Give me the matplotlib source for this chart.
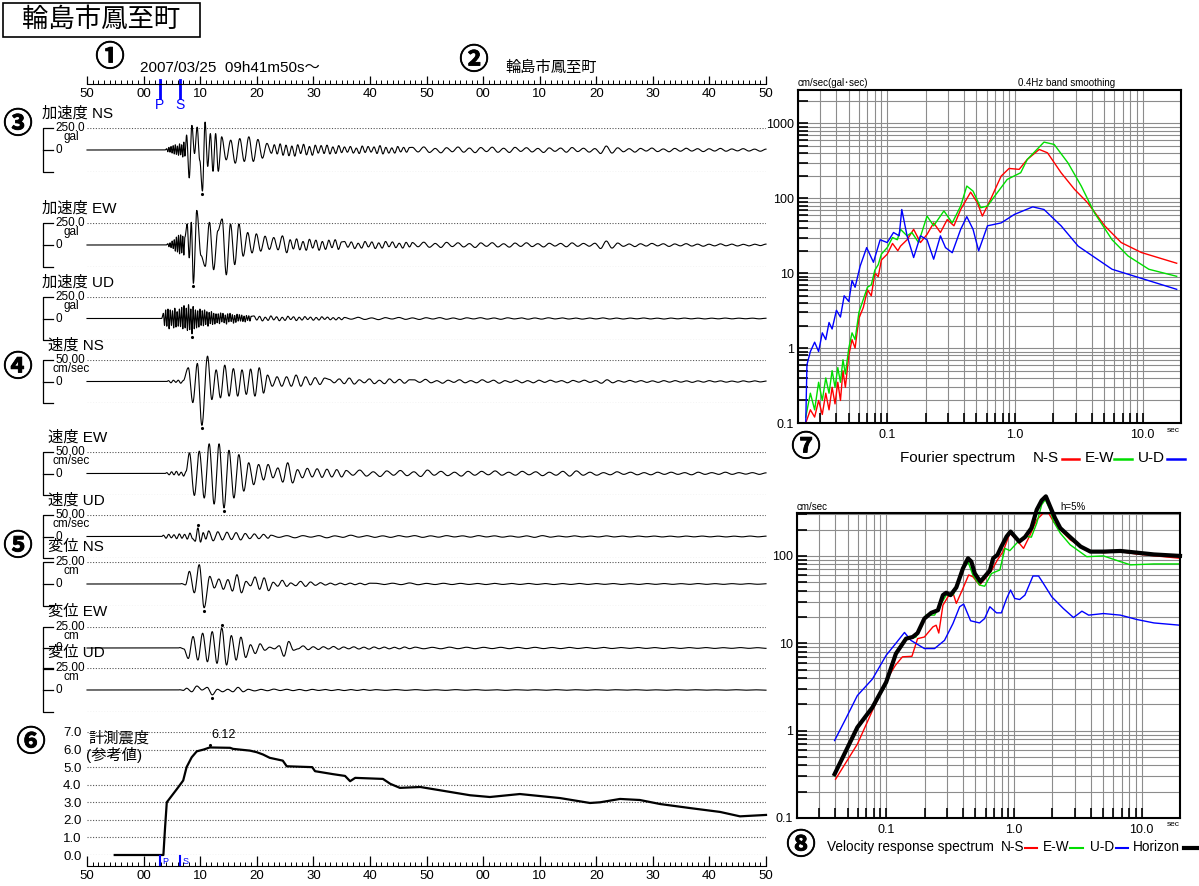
import numpy as np
import matplotlib.pyplot as plt
import matplotlib.patheffects as pe
from matplotlib.patches import Rectangle
from matplotlib.ticker import FixedLocator, FixedFormatter, NullFormatter, LogLocator

plt.rcParams['font.family'] = ['Liberation Sans', 'Noto Sans CJK JP', 'DejaVu Sans']

# ---- waveform data: (start s, end s, extrema) ----
acc_ns = [
    (14.1, 17.3, [15, -20, 30, -25, 40, -35, 50, -45, 60, -50, 45, -60, 70, -55, 60, -80, 90, -70]),
    (17.6, 23.2, [170, -317, 280, -40, 260, -120, -466, 317, -186, 186, -242, 186, -242]),
    (23.8, 32.6, [150, -112, 112, -150, 130, -130, 150, -130, 120, -93, 75, -37]),
    (33.1, 45.0, [60, -45, 70, -60, 55, -65, 45, -70, 60, -40, 65, -55, 40, -60, 55, -35, 50, -40,
                  55, -45, 35, -40, 50, -30]),
    (45.5, 57.0, [35, -25, 40, -35, 22, -40, 45, -28, 40, -24, 35, -40, 50, -45, 30, -35, 24, -35,
                  40, -22, 30, -25, 28]),
    (57.5, 120.0, [30, -22, 35, -28, 18, -32, 26, -20, 34, -25, 22, -30, 28, -18, 32, -26, 20, -28,
                   30, -16, 26, -22, 18, -28, 24, -15, 22, -25, 28, -18, 20, -24, 16, -40, 45, -35,
                   25, -20, 15, -24, 18, -12, 22, -18, 12, -20, 18, -14, 20, -12, 15, -18, 14, -12,
                   18, -14, 12, -10, 15, -12, 10, -14, 10]),
]
acc_ew = [
    (14.3, 17.3, [15, -20, 25, -30, 45, -40, 60, -70, 90, -80, 110, -100, 115, -90, 100, -115, 90]),
    (17.7, 18.8, [240, -146, 258, -435]),
    (19.4, 27.6, [393, -120, -243, 258, -281, 162, 296, -339, 239, -223, 239, -127]),
    (28.4, 35.3, [142, -90, 127, -70, 100, -50, 85, -55, 104, -88]),
    (35.9, 45.0, [60, -45, 70, -55, 40, -60, 65, -35, 55, -60, 40, -50, 55, -30, 60, -50, 35]),
    (45.5, 57.0, [40, -25, 35, -40, 20, -35, 40, -22, 35, -40, 24, -35, 40, -20, 35, -30, 20, -35,
                  30, -22]),
    (57.5, 120.0, [28, -20, 32, -26, 18, -28, 30, -18, 25, -22, 16, -28, 24, -15, 26, -22, 14, -24,
                   22, -16, 25, -18, 15, -22, 20, -12, 18, -20, 24, -15, 18, -14, 20, -40, 45, -35,
                   22, -15, 12, -18, 14, -12, 18, -10, 14, -16, 12, -10, 15, -12, 10, -14, 9, -10,
                   13, -9, 10, -11, 8, -10, 9, -7, 10]),
]
acc_ud = [
    (13.5, 23.0, [60, -80, 100, -90, 110, -120, 100, -80, 90, -110, 120, -100, 80, -90, 110, -95,
                  130, -120, 150, -110, 120, -140, 160, -130, 110, -179, 140, -120, 100, -110, 90,
                  -100, 110, -80, 90, -85, 100, -70, 80, -90, 70, -60, 80, -70, 60, -65, 55, -50]),
    (23.2, 29.0, [55, -60, 65, -40, 60, -50, 40, -65, 55, -40, 60, -35, 45, -55, 35, -45, 50, -30,
                  45, -30, 40, -35, 28, -40, 35, -22, 32, -30, 25]),
    (29.5, 45.0, [30, -18, 25, -28, 15, -22, 30, -16, 20, -26, 14, -22, 26, -12, 20, -24, 15, -18,
                  22, -12, 16, -20, 12, -18, 20, -10, 16, -15, 10, -16, 12, -14]),
    (45.5, 120.0, [12, -8, 14, -11, 7, -13, 10, -6, 12, -10, 7, -11, 9, -6, 10, -9, 6, -10, 8, -5,
                   9, -7, 6, -9, 8, -5, 7, -8, 6, -7, 8, -5, 7, -6, 5, -7, 6, -5, 7, -6, 5, -6, 5,
                   -4, 6, -5, 4, -6, 5, -4, 5, -4, 4, -5, 4, -4, 5, -4, 4, -3, 4, -4, 3]),
]
vel_ns = [
    (14.4, 17.0, [2, -3, 3, -2, 3, -4, 2]),
    (17.9, 20.3, [32, -49, 42, -102]),
    (21.3, 31.2, [59, -42, 27, -38, 38, -34, 30, -34, 27, -30, 29, -34, 32, -27]),
    (31.9, 42.0, [15, -11, 11, -11, 11, -11, 15, -11, 11, -8, 9, -7, 8]),
    (42.8, 57.0, [5, -3, 6, -5, 8, -6, 4, -3, 6, -5, 3, -5, 6, -3, 5, -4, 4]),
    (57.8, 120.0, [4, -2, 5, -3, 2, -4, 3, -2, 4, -3, 2, -3, 4, -2, 3, -4, 2, -2, 3, -3, 2, -3, 3,
                   -2, 3, -1.5, 2, -3, 2.5, -1.5, 3, -2, 2, -4, 4, -3, 2, -1.5, 2.5, -1.5, 2, -2,
                   1.5, -2, 2, -1.5, 2, -1.5, 1.5, -2, 1.5, -1.5, 2, -1, 1.5, -1.5, 1, -1.5, 1.5,
                   -1, 1.5, -1, 1]),
]
vel_ew = [
    (14.1, 17.5, [2, -3, 4, -3, 5, -4, 3, -6, 5]),
    (18.1, 31.2, [48, -51, 52, -57, 69, -71, 69, -80, 54, -57, 44, -41, 25, -26, 21, -15]),
    (32.0, 45.0, [21, -10, 13, -20, 25, -22, 9, -10, 12, -8, 11, -9, 10, -8, 9, -8]),
    (45.8, 120.0, [7, -4, 8, -6, 4, -7, 6, -4, 7, -5, 4, -7, 8, -4, 5, -5, 3, -6, 5, -4, 5, -3, 6,
                   -4, 3, -4, 5, -3, 4, -5, 3, -4, 5, -6, 6, -4, 3, -4, 2, -3, 4, -2, 3, -3, 2, -3,
                   3, -2, 3, -2, 2, -3, 3, -2, 2, -2, 3, -2, 2, -1.5, 2, -2, 1.5]),
]
vel_ud = [
    (13.5, 21.0, [3, -4, 5, -3, 4, -5, 6, -4, 5, -6, 8, -5, -11, 20, -13, 9, -6]),
    (21.5, 32.0, [13, -10, 11, -8, 10, -7, 9, -8, 7, -5, 6, -5, 5, -4]),
    (32.5, 120.0, [3, -2, 2, -3, 2, -1.5, 2, -3, 1.5, -2, 3, -1.5, 2, -2, 1.5, -2, 2, -1, 2, -2,
                   1.5, -1.5, 2, -1, 1.5, -1.5, 2, -1, 1.5, -1.5, 1, -1.5, 1.5, -2, 2, -1.5, 1,
                   -1, 1.5, -1, 1, -1, 1.5, -1, 1, -1, 1, -0.8, 1, -1, 0.8, -1, 1, -0.8, 1, -0.8,
                   0.8, -1, 0.8, -0.8, 1, -0.8, 0.8]),
]
dis_ns = [
    (16.7, 17.4, [0.5, -1]),
    (18.1, 20.7, [14.4, -10, 22, -27]),
    (21.7, 35.3, [8.7, -4.5, 5.7, -6, 5, -8, 10.6, -10, 3, -2, 8, -6, 7, -7.6, 2, -2.5, 4.2, -2.7]),
    (36.0, 50.0, [1.2, -1.9, 3, -2.7, 2.3, -1.5, 1.5, -1.2, 1, -1, 1, -0.8, 1, -0.8, 0.9, -0.8, 0.9]),
    (51.0, 120.0, [0.8, -0.6, 0.9, -0.7, 1.2, -0.8, 0.7, -0.6, 0.8, -0.6, 0.7, -0.5, 0.6, -0.6,
                   0.7, -0.5, 0.6, -0.5, 0.6, -0.5, 0.5, -0.6, 0.5, -0.5, 0.6, -0.5, 0.5, -0.4,
                   0.5, -0.5, 0.4, -0.5, 0.5, -0.4, 0.5, -0.4, 0.4, -0.4, 0.5, -0.4, 0.4, -0.4,
                   0.4, -0.3, 0.4, -0.3, 0.3]),
]
dis_ew = [
    (16.4, 17.1, [0.5, -1.0]),
    (17.9, 36.5, [-12.5, 13.7, -14.4, 17.6, -16.4, 19.5, -18.3, 23.8, -20.3, 14.8, -14.4, 12.9,
                  -11.3, 3.9, -6.6, 5, -2.7, 1, -1, 2.7, -9.8, 7.8, -2.7]),
    (37.3, 57.0, [-1, 2.5, -2, 1.5, -1.8, 1.5, -1.2, 1.8, -1.5, 1.2, -1, 1.4, -1.2, 1, -1.3, 1.2,
                  -0.9, 1.1, -1, 0.9, -1, 1.2, -0.8]),
    (58.0, 120.0, [1, -0.9, 0.8, -0.9, 1, -0.8, 0.9, -0.8, 0.8, -0.7, 0.8, -0.8, 0.7, -0.7, 0.8,
                   -0.7, 0.6, -0.7, 0.7, -0.6, 0.6, -0.6, 0.7, -0.6, 0.6, -0.5, 0.6, -0.5, 0.5,
                   -0.6, 0.5, -0.5, 0.5, -0.4, 0.5, -0.5, 0.4, -0.4, 0.5, -0.4, 0.4, -0.4]),
]
dis_ud = [
    (16.4, 17.0, [0.3, -0.5]),
    (17.6, 27.6, [2, -2, 4.5, 0, 3, -5.5, 0.8, -2, 0.8, -2, 3, -2]),
    (28.5, 50.0, [0.8, -1, 0.7, -0.8, 1, -0.6, 0.8, -0.7, 0.6, -0.8, 0.7, -0.5, 0.6, -0.6, 0.5,
                  -0.6, 0.5, -0.5, 0.6, -0.4]),
    (51.0, 120.0, [0.4, -0.4, 0.5, -0.4, 0.4, -0.4, 0.3, -0.4, 0.4, -0.3, 0.4, -0.3, 0.3, -0.4,
                   0.3, -0.3, 0.3, -0.3, 0.4, -0.3, 0.3, -0.3, 0.3, -0.3, 0.3, -0.2, 0.3, -0.3,
                   0.2, -0.3, 0.3, -0.2, 0.3, -0.2, 0.2, -0.2, 0.3, -0.2, 0.2, -0.2]),
]

# 計測震度 (running value)
int_t = [4.9, 13.5, 13.8, 14.1, 15.0, 15.9, 17.0, 17.6, 18.5, 19.4, 20.6, 21.7, 25.3, 25.8, 28.8,
         30.0, 31.1, 32.3, 34.6, 35.3, 39.8, 40.3, 43.5, 45.6, 46.5, 47.4, 52.3, 53.6, 55.3, 58.9,
         67.7, 71.2, 76.5, 83.6, 88.9, 90.7, 94.2, 97.7, 101.3, 106.6, 111.9, 115.4, 120.0]
int_v = [0, 0, 1.58, 3.0, 3.38, 3.76, 4.24, 5.0, 5.56, 5.9, 6.0, 6.12, 6.1, 6.04, 5.94, 5.85, 5.72,
         5.53, 5.37, 5.05, 5.0, 4.77, 4.6, 4.5, 4.2, 4.39, 4.33, 4.05, 3.82, 3.87, 3.4, 3.3, 3.47,
         3.24, 2.96, 3.0, 3.19, 3.13, 2.9, 2.67, 2.45, 2.2, 2.28]
int_max = 6.12
t_P, t_S = 12.9, 16.4
time_labels = ['50', '00', '10', '20', '30', '40', '50', '00', '10', '20', '30', '40', '50']

# Fourier spectrum (period s, amplitude)
fs_ns_T = [0.023, 0.025, 0.027, 0.029, 0.031, 0.033, 0.035, 0.037, 0.039, 0.041, 0.043, 0.045,
           0.047, 0.05, 0.053, 0.056, 0.06, 0.065, 0.07, 0.075, 0.08, 0.085, 0.09, 0.1, 0.11, 0.121,
           0.127, 0.143, 0.161, 0.182, 0.205, 0.231, 0.261, 0.295, 0.333, 0.376, 0.45, 0.508, 0.556,
           0.645, 0.78, 0.90, 1.08, 1.25, 1.55, 1.80, 2.30, 2.93, 3.71, 5.05, 6.8, 9.8, 18.5]
fs_ns_A = [0.1, 0.15, 0.12, 0.2, 0.13, 0.25, 0.15, 0.3, 0.18, 0.35, 0.2, 0.5, 0.3, 0.8, 1.3, 1.0,
           2.5, 3.5, 6, 5, 10, 9, 15, 18, 25, 20, 23, 28, 38.6, 25.7, 33, 47, 35, 52, 43, 71, 121,
           87.5, 58, 97, 198, 251, 244, 331, 450, 406, 220, 132, 87.5, 43, 25.7, 18.9, 13.6]
fs_ew_T = [0.023, 0.025, 0.027, 0.029, 0.031, 0.033, 0.035, 0.037, 0.039, 0.041, 0.043, 0.045,
           0.047, 0.05, 0.053, 0.056, 0.06, 0.065, 0.07, 0.075, 0.08, 0.085, 0.09, 0.1, 0.11, 0.12,
           0.127, 0.143, 0.156, 0.176, 0.205, 0.231, 0.278, 0.323, 0.376, 0.42, 0.47, 0.54, 0.61,
           0.68, 0.87, 1.11, 1.25, 1.69, 2.03, 2.60, 3.31, 4.2, 5.77, 7.7, 11.2, 18.5]
fs_ew_A = [0.12, 0.25, 0.15, 0.35, 0.2, 0.4, 0.25, 0.5, 0.3, 0.55, 0.35, 0.7, 0.45, 1.0, 1.6, 1.3,
           3, 4.5, 6.5, 7, 11, 13, 18, 22, 30, 28, 38.6, 31.6, 35, 25.7, 58, 43, 68, 47, 79, 146,
           125, 75, 79, 102, 179, 220, 331, 564, 525, 299, 146, 64, 28, 17, 11.3, 9.1]
fs_ud_T = [0.023, 0.0235, 0.025, 0.027, 0.029, 0.031, 0.033, 0.035, 0.037, 0.04, 0.043, 0.046,
           0.05, 0.053, 0.056, 0.0614, 0.069, 0.078, 0.088, 0.1, 0.112, 0.124, 0.130, 0.143, 0.161,
           0.182, 0.205, 0.231, 0.261, 0.286, 0.323, 0.376, 0.42, 0.47, 0.52, 0.61, 0.78, 0.99,
           1.38, 1.69, 2.30, 3.13, 5.77, 18.5]
fs_ud_A = [0.1, 0.6, 0.9, 1.2, 0.9, 1.6, 1.3, 2.2, 1.8, 3.2, 2.6, 5, 4.2, 8, 6.5, 12.5, 22, 14, 28,
           25.7, 35, 31.6, 71, 31.6, 16.2, 31.6, 28, 15.4, 31.6, 22, 18.8, 38.6, 57, 38.6, 19.9, 43,
           47, 61, 77, 71, 43, 23, 11.3, 6.1]

# velocity response spectrum h=5% (period s, cm/sec)
rs_ns_T = [0.0401, 0.0594, 0.078, 0.1, 0.118, 0.134, 0.159, 0.176, 0.199, 0.232, 0.246, 0.258,
           0.278, 0.304, 0.333, 0.354, 0.394, 0.442, 0.477, 0.538, 0.590, 0.668, 0.743, 0.822,
           0.930, 1.047, 1.19, 1.34, 1.51, 1.70, 1.87, 2.04, 2.31, 2.76, 3.72, 5.03, 6.83, 9.2, 20]
rs_ns_V = [0.278, 0.70, 1.70, 3.76, 5.6, 7.0, 7.1, 11.3, 11.8, 15.4, 16.1, 13.1, 27.3, 34, 37.9,
           28.6, 40.7, 60.5, 57.9, 46.4, 54, 67.9, 90, 112, 182, 153, 122, 174, 259, 309, 309, 248,
           199, 153, 117, 109, 112, 105, 94]
rs_ew_T = [0.0394, 0.0594, 0.078, 0.1, 0.119, 0.143, 0.171, 0.188, 0.205, 0.239, 0.270, 0.295,
           0.333, 0.364, 0.399, 0.437, 0.477, 0.538, 0.590, 0.668, 0.776, 0.851, 0.930, 1.08, 1.25,
           1.37, 1.51, 1.65, 1.76, 1.92, 2.04, 2.31, 2.76, 3.72, 5.03, 6.83, 8.2, 12.5, 20]
rs_ew_V = [0.304, 1.05, 1.85, 3.4, 7.6, 11.0, 11.8, 15.4, 21, 21, 28.6, 35.6, 35.6, 46.4, 69, 86,
           60.5, 46.4, 45, 63, 69, 122, 115, 146, 167, 164, 237, 385, 440, 338, 248, 182, 134, 98,
           100, 86, 79, 81, 81]
rs_ud_T = [0.0394, 0.0481, 0.0594, 0.078, 0.1, 0.119, 0.139, 0.156, 0.199, 0.239, 0.286, 0.333,
           0.376, 0.404, 0.458, 0.538, 0.590, 0.648, 0.731, 0.798, 0.877, 0.941, 1.015, 1.11, 1.22,
           1.41, 1.56, 1.70, 1.98, 2.44, 2.93, 3.41, 3.85, 5.03, 6.83, 9.2, 12.5, 20]
rs_ud_V = [0.77, 1.36, 2.52, 3.9, 7.3, 10, 13.3, 10.8, 8.7, 8.7, 10.8, 16.8, 26.2, 28.1, 18.1, 17.1,
           19.2, 26.2, 22.3, 22.3, 32.6, 40.7, 32.6, 31.7, 35.6, 58.9, 58.9, 48.5, 34, 25, 19.7,
           23.3, 21, 21.9, 21, 18.7, 17.1, 16.1]
rs_h_T = [0.0394, 0.0594, 0.078, 0.1, 0.119, 0.143, 0.161, 0.176, 0.199, 0.225, 0.254, 0.278,
          0.295, 0.319, 0.354, 0.399, 0.437, 0.464, 0.494, 0.546, 0.590, 0.648, 0.688, 0.743, 0.798,
          0.877, 0.941, 1.015, 1.10, 1.22, 1.37, 1.51, 1.65, 1.78, 1.92, 2.10, 2.31, 2.76, 3.33,
          3.98, 5.03, 6.83, 9.2, 12.5, 20]
rs_h_V = [0.318, 1.09, 1.85, 3.6, 7.6, 11.3, 11.8, 13.1, 19.2, 22.3, 23.9, 35.6, 37.9, 35.6, 43.6,
          72, 94, 86, 63, 50.7, 57.9, 67.9, 94, 102.7, 128, 167, 190, 167, 146, 164, 208, 338, 432,
          481, 369, 271, 208, 164, 128, 112, 112, 114, 109, 104, 100]

W, H = 1199, 886
fig = plt.figure(figsize=(W / 100, H / 100), dpi=100)


def box(l, t, r, b):
    return fig.add_axes([l / W, 1 - b / H, (r - l) / W, (b - t) / H])


def waveform(segs):
    ts = [0.0, segs[0][0] - 0.3]
    vs = [0.0, 0.0]
    for t0, t1, vals in segs:
        ts.extend(np.linspace(t0, t1, len(vals)))
        vs.extend(vals)
    if ts[-1] < 120:
        ts.append(120.0)
        vs.append(0.0)
    ts = np.array(ts)
    vs = np.array(vs, dtype=float)
    t = np.linspace(0, 120, 9000)
    k = np.clip(np.searchsorted(ts, t, side='right') - 1, 0, len(ts) - 2)
    s = (t - ts[k]) / (ts[k + 1] - ts[k])
    y = vs[k] + (vs[k + 1] - vs[k]) * (1 - np.cos(np.pi * s)) / 2
    return t, y


# overlay for labels, in pixels
ov = box(0, 0, W, H)
ov.set_xlim(0, W)
ov.set_ylim(H, 0)
ov.axis('off')

X0, X1 = 87, 766  # time axis pixel span (0..120 s)

# title box
ov.add_patch(Rectangle((3, 3), 197, 34, fill=False, lw=1.2, color='black'))
ov.text(101, 20, '輪島市鳳至町', fontsize=19, ha='center', va='center')
ov.text(140, 68, '2007/03/25  09h41m50s〜', fontsize=11, va='center')
ov.text(505, 68, '輪島市鳳至町', fontsize=11, va='center')

circ = [('①', 110, 57), ('②', 474, 60), ('③', 18, 124), ('④', 18, 367), ('⑤', 18, 546),
        ('⑥', 31, 742), ('⑦', 806, 447), ('⑧', 801, 845)]
for s, x, y in circ:
    ov.text(x, y, s, fontsize=21, fontweight='bold', ha='center', va='center',
            family=['Noto Sans CJK JP', 'DejaVu Sans'],
            path_effects=[pe.withStroke(linewidth=0.6, foreground='black')])

# top time ruler
ta = box(X0, 73, X1, 84)
ta.set_xlim(0, 120)
ta.set_ylim(0, 1)
ta.patch.set_visible(False)
for sp in ['top', 'left', 'right']:
    ta.spines[sp].set_visible(False)
ta.set_yticks([])
ta.set_xticks(np.arange(0, 121, 10))
ta.set_xticklabels(time_labels)
ta.set_xticks(np.arange(0, 121, 1), minor=True)
ta.tick_params(axis='x', which='major', direction='in', length=6, width=0.9, pad=3, labelsize=9.5)
ta.tick_params(axis='x', which='minor', direction='in', length=3, width=0.7)
for tt, lab in [(t_P, 'P'), (t_S, 'S')]:
    ta.plot([tt, tt], [0.4, -1.3], color='#0000ff', lw=2, transform=ta.get_xaxis_transform(),
            clip_on=False)
    ta.text(tt, -1.9, lab, color='#0000ff', fontsize=10, ha='center', va='center',
            transform=ta.get_xaxis_transform())

# traces
traces = [
    ('加速度 NS', 42, 128, 172, 250, '250.0', 'gal', acc_ns),
    ('加速度 EW', 42, 223, 267, 250, '250.0', 'gal', acc_ew),
    ('加速度 UD', 42, 297, 340, 250, '250.0', 'gal', acc_ud),
    ('速度 NS', 48, 360, 403, 50, '50.00', 'cm/sec', vel_ns),
    ('速度 EW', 48, 452, 495, 50, '50.00', 'cm/sec', vel_ew),
    ('速度 UD', 48, 515, 558, 50, '50.00', 'cm/sec', vel_ud),
    ('変位 NS', 48, 562, 606, 25, '25.00', 'cm', dis_ns),
    ('変位 EW', 48, 627, 669, 25, '25.00', 'cm', dis_ew),
    ('変位 UD', 48, 668, 712, 25, '25.00', 'cm', dis_ud),
]
for name, lx, top, bot, amp, stxt, unit, segs in traces:
    ax = box(X0, top, X1, bot)
    ax.set_xlim(0, 120)
    ax.set_ylim(-amp, amp)
    ax.axis('off')
    for yv in (amp, -amp):
        ax.axhline(yv, color='#555555', lw=0.8, ls=(0, (1, 1.5)))
    t, y = waveform(segs)
    ax.plot(t, y, color='black', lw=0.8, clip_on=False)
    i = np.argmax(np.abs(y))
    ax.plot(t[i], y[i] + np.sign(y[i]) * 0.14 * amp, 'k.', ms=2.5, clip_on=False)
    mid = (top + bot) / 2
    ov.plot([53, 43, 43, 53], [top, top, bot, bot], color='black', lw=0.9)
    ov.plot([43, 53], [mid, mid], color='black', lw=0.9)
    ov.text(lx, top - 15, name, fontsize=11, va='center')
    ov.text(55, top, stxt, fontsize=8.5, va='center')
    ov.text(71, top + 9, unit, fontsize=8.5, va='center', ha='center')
    ov.text(56, mid, '0', fontsize=8.5, va='center')

# seismic intensity
ia = box(X0, 732, X1, 855)
ia.set_xlim(0, 120)
ia.set_ylim(0, 7)
for sp in ia.spines.values():
    sp.set_visible(False)
ia.patch.set_visible(False)
for v in range(8):
    ia.axhline(v, color='#555555', lw=0.8, ls=(0, (1, 1.5)))
ia.plot(int_t, int_v, color='black', lw=1.6, clip_on=False)
k = int(np.argmax(int_v))
ia.plot(int_t[k], int_v[k] + 0.12, 'k.', ms=2.5, clip_on=False)
ia.text(int_t[k] + 0.3, int_v[k] + 0.35, f'{int_max:.2f}', fontsize=9, va='bottom')
ia.set_xticks([])
ia.set_yticks(range(8))
ia.set_yticklabels([f'{v:.1f}' for v in range(8)])
ia.tick_params(axis='y', length=0, pad=4, labelsize=9.5)
ov.text(88, 738, '計測震度', fontsize=11, va='center')
ov.text(86, 755, '(参考値)', fontsize=11, va='center')

ba = box(X0, 856, X1, 866)
ba.set_xlim(0, 120)
ba.set_ylim(0, 1)
ba.patch.set_visible(False)
for sp in ['top', 'left', 'right']:
    ba.spines[sp].set_visible(False)
ba.set_yticks([])
ba.set_xticks(np.arange(0, 121, 10))
ba.set_xticklabels(time_labels)
ba.set_xticks(np.arange(0, 121, 1), minor=True)
ba.tick_params(axis='x', which='major', direction='in', length=7, width=0.9, pad=3, labelsize=9.5)
ba.tick_params(axis='x', which='minor', direction='in', length=3, width=0.7)
for tt, lab in [(t_P, 'P'), (t_S, 'S')]:
    ba.plot([tt, tt], [0.1, 1.0], color='#0000ff', lw=1.5, clip_on=False)
    ba.text(tt + 0.4, 0.45, lab, color='#0000ff', fontsize=6.5, va='center')


def log_panel(ax, ylim, yticks, ylabels):
    ax.set_xscale('log')
    ax.set_yscale('log')
    ax.set_xlim(0.02, 20)
    ax.set_ylim(*ylim)
    ax.grid(True, which='both', color='#8c8c8c', lw=0.8)
    ax.xaxis.set_major_locator(FixedLocator([0.1, 1, 10]))
    ax.xaxis.set_major_formatter(FixedFormatter(['0.1', '1.0', '10.0']))
    ax.xaxis.set_minor_locator(LogLocator(base=10, subs=np.arange(2, 10)))
    ax.xaxis.set_minor_formatter(NullFormatter())
    ax.yaxis.set_major_locator(FixedLocator(yticks))
    ax.yaxis.set_major_formatter(FixedFormatter(ylabels))
    ax.yaxis.set_minor_locator(LogLocator(base=10, subs=np.arange(2, 10)))
    ax.yaxis.set_minor_formatter(NullFormatter())
    ax.tick_params(which='both', direction='in', top=False, right=False, length=7, width=1.2,
                   labelsize=9)
    ax.tick_params(axis='x', pad=4)
    ax.tick_params(axis='y', pad=3)
    for sp in ax.spines.values():
        sp.set_linewidth(1.5)


fa = box(798, 90, 1181, 423)
log_panel(fa, (0.1, 2800), [0.1, 1, 10, 100, 1000], ['0.1', '1', '10', '100', '1000'])
fa.plot(fs_ns_T, fs_ns_A, color='#ff0000', lw=1)
fa.plot(fs_ew_T, fs_ew_A, color='#00dd00', lw=1)
fa.plot(fs_ud_T, fs_ud_A, color='#0000ff', lw=1)
ov.text(798, 83, 'cm/sec(gal･sec)', fontsize=7, va='center')
ov.text(1018, 83, '0.4Hz band smoothing', fontsize=7, va='center')
ov.text(1167, 430, 'sec', fontsize=6, va='center')

ra = box(797, 513, 1180, 818)
log_panel(ra, (0.1, 310), [0.1, 1, 10, 100], ['0.1', '1', '10', '100'])
ra.plot(rs_ns_T, rs_ns_V, color='#ff0000', lw=1, clip_on=False)
ra.plot(rs_ew_T, rs_ew_V, color='#00dd00', lw=1, clip_on=False)
ra.plot(rs_ud_T, rs_ud_V, color='#0000ff', lw=1, clip_on=False)
ra.plot(rs_h_T, rs_h_V, color='black', lw=3, clip_on=False)
ov.text(797, 507, 'cm/sec', fontsize=7, va='center')
ov.text(1060, 507, 'h=5%', fontsize=7, va='center')
ov.text(1167, 825, 'sec', fontsize=6, va='center')

# legends
ov.text(900, 458, 'Fourier spectrum', fontsize=11, va='center')
for lab, x, c, l0, l1 in [('N-S', 1033, '#ff0000', 1062, 1079), ('E-W', 1085, '#00dd00', 1114, 1132),
                          ('U-D', 1138, '#0000ff', 1167, 1185)]:
    ov.text(x, 458, lab, fontsize=11, va='center')
    ov.plot([l0, l1], [459, 459], color=c, lw=1.8)

ov.text(827, 847, 'Velocity response spectrum', fontsize=9.8, va='center')
for lab, x, c, l0, l1, lw in [('N-S', 1001, '#ff0000', 1025, 1037, 1.5),
                              ('E-W', 1043, '#00dd00', 1070, 1083, 1.5),
                              ('U-D', 1090, '#0000ff', 1116, 1128, 1.5),
                              ('Horizon', 1133, 'black', 1184, 1197, 3)]:
    ov.text(x, 847, lab, fontsize=9.8, va='center')
    ov.plot([l0, l1], [848, 848], color=c, lw=lw)

fig.savefig('out.png', dpi=100)
